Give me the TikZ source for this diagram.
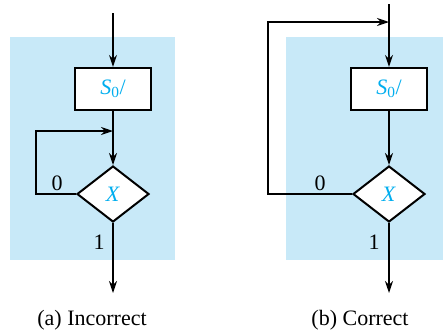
\documentclass[tikz,border=0pt]{standalone}
\usepackage{fontspec}
\setmainfont{Liberation Serif}
\usetikzlibrary{shapes.geometric,arrows.meta}
\definecolor{panelblue}{RGB}{200,233,248}
\definecolor{textcyan}{RGB}{0,174,239}
\begin{document}
\begin{tikzpicture}[x=1pt, y=-1pt, >={Stealth[length=12pt, width=8pt]},
        font=\fontsize{22}{26}\selectfont, line width=1.3pt,
        statebox/.style={rectangle, draw, line width=2.2pt, fill=white, minimum width=76pt, minimum height=42pt, inner sep=0pt, text=textcyan},
        decision/.style={diamond, draw, line width=2pt, fill=white, minimum width=72pt, minimum height=56pt, inner sep=0pt, text=textcyan},
        panel/.style={fill=panelblue, draw=none}]
        \useasboundingbox (0,0) rectangle (443,333);
        % ---- backgrounds ----
        \fill[panel] (10,37) rectangle (175,260);
        \fill[panel] (286,37) rectangle (443,260);
        % ---- (a) incorrect ----
        \coordinate (inA) at (113,13);
        \node[statebox] (sA) at (113,89) {\textit{S}\textsubscript{0}/};
        \coordinate (jA) at (113,131);
        \coordinate (cA) at (36,131);
        \node[decision] (xA) at (113,194) {\textit{X}};
        \coordinate (outA) at (113,293);
        \draw[->] (inA) -- (sA.north);
        \draw[->] (sA.south) -- (xA.north);
        \draw[->] (xA.west) -- (xA.west -| cA) -- (cA) -- (jA);
        \draw[->] (xA.south) -- (outA);
        \node (zA) at (57,183) {0};
        \node (oA) at (99,242) {1};
        \node (capA) at (92,320) {(a) Incorrect};
        % ---- (b) correct ----
        \coordinate (inB) at (389,4);
        \coordinate (jB) at (389,22);
        \coordinate (cB) at (268,22);
        \node[statebox] (sB) at (389,89) {\textit{S}\textsubscript{0}/};
        \node[decision] (xB) at (389,194) {\textit{X}};
        \coordinate (outB) at (389,293);
        \draw[->] (inB) -- (sB.north);
        \draw[->] (sB.south) -- (xB.north);
        \draw[->] (xB.west) -- (xB.west -| cB) -- (cB) -- (jB);
        \draw[->] (xB.south) -- (outB);
        \node (zB) at (320,183) {0};
        \node (oB) at (374,242) {1};
        \node (capB) at (360,320) {(b) Correct};
\end{tikzpicture}
\end{document}
